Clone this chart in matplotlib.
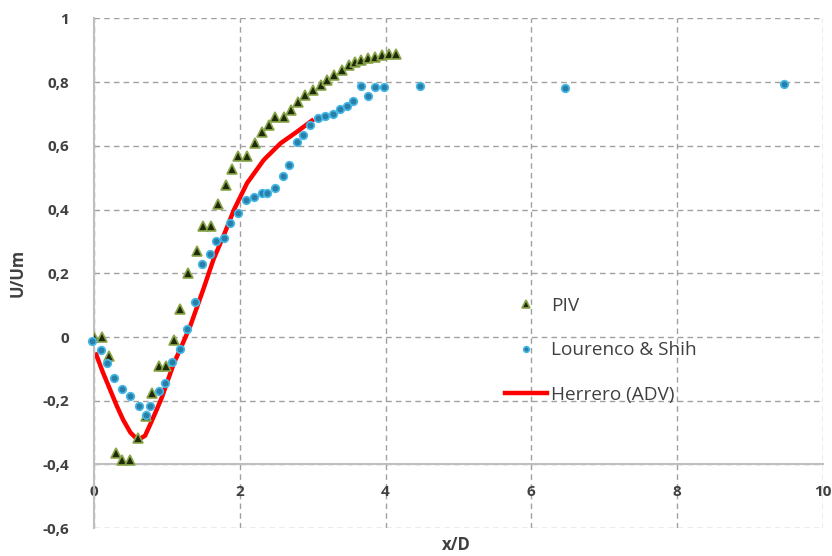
import matplotlib
matplotlib.use('Agg')
import matplotlib.pyplot as plt
from matplotlib.ticker import FuncFormatter

# ---------------- données ----------------
piv_x = [0.0, 0.11, 0.21, 0.30, 0.39, 0.50, 0.60, 0.71, 0.79, 0.89, 0.99, 1.10,
         1.18, 1.29, 1.41, 1.49, 1.61, 1.70, 1.81, 1.89, 1.98, 2.10, 2.21, 2.30,
         2.40, 2.49, 2.60, 2.70, 2.80, 2.90, 3.01, 3.11, 3.20, 3.29, 3.40, 3.50,
         3.58, 3.67, 3.76, 3.86, 3.95, 4.05, 4.15]
piv_y = [0.0, 0.0, -0.06, -0.363, -0.386, -0.386, -0.318, -0.247, -0.176, -0.092,
         -0.092, -0.01, 0.087, 0.2, 0.27, 0.349, 0.349, 0.417, 0.478, 0.528, 0.568,
         0.568, 0.609, 0.643, 0.666, 0.69, 0.69, 0.712, 0.736, 0.758, 0.774, 0.79,
         0.806, 0.821, 0.837, 0.853, 0.864, 0.869, 0.874, 0.879, 0.885, 0.887, 0.887]

ls_x = [-0.03, 0.09, 0.18, 0.27, 0.38, 0.49, 0.62, 0.72, 0.77, 0.89, 0.97, 1.07,
        1.18, 1.28, 1.38, 1.48, 1.59, 1.68, 1.78, 1.87, 1.98, 2.08, 2.19, 2.30,
        2.38, 2.49, 2.59, 2.67, 2.78, 2.87, 2.97, 3.07, 3.17, 3.28, 3.37, 3.47,
        3.56, 3.67, 3.76, 3.86, 3.98, 4.47, 6.46, 9.47]
ls_y = [-0.013, -0.042, -0.081, -0.129, -0.163, -0.184, -0.218, -0.244, -0.218,
        -0.168, -0.144, -0.079, -0.037, 0.026, 0.11, 0.23, 0.26, 0.302, 0.31,
        0.357, 0.388, 0.43, 0.438, 0.452, 0.452, 0.467, 0.506, 0.54, 0.612,
        0.635, 0.664, 0.687, 0.695, 0.701, 0.716, 0.725, 0.74, 0.788, 0.756,
        0.783, 0.783, 0.788, 0.78, 0.795]

adv_x = [0.03, 0.12, 0.22, 0.31, 0.40, 0.50, 0.60, 0.70, 0.78, 0.86, 0.93, 1.00,
         1.10, 1.18, 1.32, 1.50, 1.64, 1.80, 1.92, 2.10, 2.33, 2.56, 2.79, 2.99]
adv_y = [-0.055, -0.11, -0.165, -0.215, -0.26, -0.30, -0.323, -0.31, -0.27,
         -0.228, -0.19, -0.144, -0.08, -0.04, 0.034, 0.15, 0.244, 0.33, 0.399,
         0.483, 0.556, 0.608, 0.645, 0.679]

plt.rcParams['font.family'] = ['Open Sans', 'DejaVu Sans']

fig = plt.figure(figsize=(8.32, 5.56), dpi=100)
ax = fig.add_axes([0.113, 0.050, 0.876, 0.917])

ax.plot(piv_x, piv_y, linestyle='none', marker='^', markersize=7,
        markerfacecolor='#1e2a0a', markeredgecolor='#8aa64a', markeredgewidth=1.2,
        label='PIV', zorder=3)
ax.plot(ls_x, ls_y, linestyle='none', marker='o', markersize=5.5,
        markerfacecolor='#2a7fa8', markeredgecolor='#45b8e6', markeredgewidth=1.2,
        label='Lourenco & Shih', zorder=3, clip_on=False)
ax.plot(adv_x, adv_y, color='#ff0000', linewidth=3.2, label='Herrero (ADV)', zorder=2)

ax.set_xlim(0, 10)
ax.set_ylim(-0.6, 1)
ax.set_xticks([0, 2, 4, 6, 8, 10])
ax.set_yticks([-0.6, -0.4, -0.2, 0, 0.2, 0.4, 0.6, 0.8, 1])

virgule = FuncFormatter(lambda v, p: ('%g' % round(v, 2)).replace('.', ','))
ax.xaxis.set_major_formatter(virgule)
ax.yaxis.set_major_formatter(virgule)

# grille pointillée, axe des x croisant à -0,4
ax.grid(True, color='#a0a0a0', linestyle=(0, (4, 3)), linewidth=1.0)
ax.set_axisbelow(True)
for s in ['top', 'right']:
    ax.spines[s].set_visible(False)
ax.spines['bottom'].set_position(('data', -0.4))
ax.spines['bottom'].set_color('#bfbfbf')
ax.spines['bottom'].set_linewidth(1.5)
ax.spines['left'].set_color('#bfbfbf')
ax.spines['left'].set_linewidth(1.5)

ax.tick_params(axis='both', length=0, labelsize=11, labelcolor='#404040')
ax.tick_params(axis='x', pad=15)
ax.tick_params(axis='y', pad=18)
for t in ax.get_xticklabels() + ax.get_yticklabels():
    t.set_fontweight('bold')

ax.set_xlabel('x/D', fontsize=12, fontweight='bold', color='#404040', va='center')
ax.xaxis.set_label_coords(0.497, -0.033)
ax.set_ylabel('U/Um', fontsize=12, fontweight='bold', color='#404040')
ax.yaxis.set_label_coords(-0.092, 0.5)

ax.legend(loc='center left', bbox_to_anchor=(0.564, 0.349), frameon=False,
          fontsize=13.7, labelcolor='#404040', handlelength=2.2, handletextpad=0.22,
          labelspacing=1.4, borderpad=0, borderaxespad=0, markerscale=0.75)

fig.savefig('out.png', dpi=100)
